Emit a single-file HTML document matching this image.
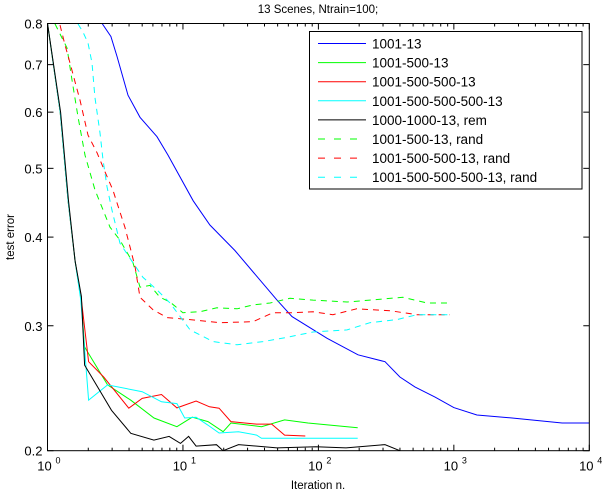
<!DOCTYPE html>
<html><head><meta charset="utf-8"><style>
html,body{margin:0;padding:0;background:#fff;}
svg{display:block;font-family:"Liberation Sans",Arial,sans-serif;}
</style></head><body>
<svg id="chart" width="602" height="494" viewBox="0 0 602 494" xmlns="http://www.w3.org/2000/svg">
<rect x="0" y="0" width="602" height="494" fill="#fff"/>
<defs><clipPath id="pc"><rect x="47.5" y="23.5" width="541.8" height="427.2"/></clipPath></defs>
<text x="318" y="13" font-size="11.5" text-anchor="middle">13 Scenes, Ntrain=100;</text>
<text x="318" y="489" font-size="11.5" text-anchor="middle">Iteration n.</text>
<text x="0" y="0" font-size="11.5" text-anchor="middle" transform="translate(14,237) rotate(-90)">test error</text>
<g id="series" clip-path="url(#pc)"></g>
<g id="axes"></g>
<g id="legend"></g>
</svg>
<script>
const xTicks=[1,10,100,1000,10000];
const xTickExp=["0","1","2","3","4"];
const yTicks=[0.2,0.3,0.4,0.5,0.6,0.7,0.8];
const yTickLabels=["0.2","0.3","0.4","0.5","0.6","0.7","0.8"];
const legendLabels=["1001-13","1001-500-13","1001-500-500-13","1001-500-500-500-13","1000-1000-13, rem","1001-500-13, rand","1001-500-500-13, rand","1001-500-500-500-13, rand"];
const legendColors=["#0000ff","#00ff00","#ff0000","#00ffff","#000000","#00ff00","#ff0000","#00ffff"];
const legendDashed=[false,false,false,false,false,true,true,true];

const blueIt=[2.53,2.94,3.26,3.93,4.82,6.43,7.76,11.9,15.8,24.2,49.5,63.8,116,196,310,400,516,726,1000,1480,2690,6300,10000];
const blueErr=[0.8,0.767,0.719,0.634,0.59,0.554,0.522,0.45,0.416,0.383,0.326,0.309,0.288,0.273,0.267,0.254,0.246,0.238,0.230,0.2246,0.2224,0.2188,0.2188];
const greenIt=[1,1.24,1.42,1.6,1.77,1.88,2.78,4.12,6.11,9.03,11.7,15.3,19.8,22.6,38,56.3,83.6,195];
const greenErr=[0.8,0.6,0.45,0.37,0.326,0.28,0.2476,0.2356,0.2224,0.2162,0.223,0.2198,0.2127,0.2188,0.2162,0.221,0.2188,0.2155];
const redIt=[1,1.24,1.42,1.6,1.78,2.01,2.6,3.98,5.0,6.95,9.03,12.5,15.7,18.5,22.6,35,45.2,56.3,80];
const redErr=[0.8,0.6,0.45,0.37,0.326,0.267,0.254,0.2296,0.237,0.240,0.2298,0.235,0.2306,0.2296,0.2198,0.218,0.218,0.2104,0.2098];
const cyanIt=[1,1.24,1.42,1.6,1.76,2.01,2.78,5.0,6.95,9.03,10.3,12.5,15.2,18.5,25.7,35,38,195];
const cyanErr=[0.8,0.6,0.45,0.37,0.326,0.2356,0.2476,0.2422,0.2344,0.233,0.2224,0.223,0.2175,0.2118,0.2127,0.2104,0.2082,0.2082];
const blackIt=[1,1.25,1.43,1.6,1.78,1.88,2.97,4.12,6.1,7.9,9.6,11,12.5,17.7,19.8,25.7,49.5,96,160,310,400];
const blackErr=[0.8,0.6,0.45,0.37,0.33,0.264,0.228,0.2116,0.207,0.2095,0.2048,0.2095,0.203,0.2039,0.2,0.204,0.2018,0.2026,0.2018,0.204,0.2];
const gdIt=[1.136,1.393,1.517,1.68,1.892,2.243,2.57,2.893,3.43,4.28,4.82,5.71,6.77,8.02,10,13.4,17.8,25.1,32.9,44,61.7,91.2,163,240,421,634,937];
const gdErr=[0.799,0.739,0.666,0.591,0.522,0.466,0.437,0.413,0.396,0.368,0.340,0.342,0.329,0.324,0.313,0.314,0.318,0.317,0.321,0.323,0.328,0.326,0.324,0.326,0.329,0.323,0.323];
const rdIt=[1.237,1.346,1.466,1.596,1.738,1.99,2.32,2.66,3.04,3.26,3.73,4.07,4.43,4.82,6.01,7.62,11.3,18.8,32.9,46.2,64.9,91.2,128,192,337,534,937];
const rdErr=[0.796,0.746,0.704,0.662,0.624,0.557,0.526,0.494,0.466,0.447,0.413,0.387,0.363,0.329,0.316,0.308,0.306,0.303,0.304,0.313,0.313,0.314,0.311,0.317,0.315,0.311,0.311];
const cdIt=[1.68,1.83,1.99,2.13,2.24,2.44,2.57,2.75,2.99,3.43,4.28,5.07,6.43,8.02,11.3,16.7,25.1,39,58.7,91.2,163,240,380,534,937];
const cdErr=[0.799,0.778,0.751,0.704,0.630,0.561,0.514,0.471,0.437,0.392,0.368,0.351,0.337,0.323,0.296,0.285,0.282,0.285,0.289,0.294,0.296,0.303,0.306,0.311,0.311];

const L=47.5,R=589.3,T=23.5,B=450.7;
function xS(v){return L+Math.log10(v)/4*(R-L);}
function yS(v){return B-Math.log10(v/0.2)/Math.log10(4)*(B-T);}
const NS="http://www.w3.org/2000/svg";
const svg=document.getElementById('chart');
const sg=document.getElementById('series');
const ag=document.getElementById('axes');
const lg=document.getElementById('legend');
function mk(tag,attrs,parent){const e=document.createElementNS(NS,tag);for(const k in attrs)e.setAttribute(k,attrs[k]);parent.appendChild(e);return e;}

const seriesList=[
 [blueIt,blueErr,0,'series-1001-13'],
 [greenIt,greenErr,1,'series-1001-500-13'],
 [redIt,redErr,2,'series-1001-500-500-13'],
 [cyanIt,cyanErr,3,'series-1001-500-500-500-13'],
 [blackIt,blackErr,4,'series-1000-1000-13-rem'],
 [gdIt,gdErr,5,'series-1001-500-13-rand'],
 [rdIt,rdErr,6,'series-1001-500-500-13-rand'],
 [cdIt,cdErr,7,'series-1001-500-500-500-13-rand']
];
seriesList.forEach(s=>{
 const d=s[0].map((v,i)=>(i?'L':'M')+xS(v).toFixed(1)+','+yS(s[1][i]).toFixed(1)).join('');
 const p=mk('path',{d:d,fill:'none',stroke:legendColors[s[2]],'stroke-width':1},sg);
 if(legendDashed[s[2]])p.setAttribute('stroke-dasharray','6,5');
 
 
});

// axes box
const box=mk('rect',{x:L,y:T,width:R-L,height:B-T,fill:'none',stroke:'#000','stroke-width':1},ag);


// x ticks
for(let e=0;e<4;e++){for(let m=2;m<=9;m++){const x=xS(m*Math.pow(10,e));
 mk('line',{x1:x,y1:B,x2:x,y2:B-3,stroke:'#000'},ag);mk('line',{x1:x,y1:T,x2:x,y2:T+3,stroke:'#000'},ag);}}
xTicks.forEach((v,i)=>{const x=xS(v);
 mk('line',{x1:x,y1:B,x2:x,y2:B-6,stroke:'#000'},ag);mk('line',{x1:x,y1:T,x2:x,y2:T+6,stroke:'#000'},ag);
 const t=mk('text',{x:x-3,y:B+20,'font-size':13,'text-anchor':'middle'},ag);
 t.textContent='10';
 
 
 const s=mk('text',{x:x+8,y:B+13,'font-size':9},ag);
 s.textContent=xTickExp[i];
 
 
});
yTicks.forEach((v,i)=>{const y=yS(v);
 mk('line',{x1:L,y1:y,x2:L+6,y2:y,stroke:'#000'},ag);mk('line',{x1:R,y1:y,x2:R-6,y2:y,stroke:'#000'},ag);
 const t=mk('text',{x:L-5,y:y+5,'font-size':13,'text-anchor':'end'},ag);
 t.textContent=yTickLabels[i];
 
 
});

// legend
const lb=mk('rect',{x:309.5,y:31.5,width:272.5,height:157.5,fill:'#fff',stroke:'#000'},lg);


legendLabels.forEach((lab,i)=>{const y=43.5+i*19.1;
 const ln=mk('line',{x1:318,y1:y,x2:366,y2:y,stroke:legendColors[i],'stroke-width':1},lg);
 if(legendDashed[i])ln.setAttribute('stroke-dasharray','7,9');
 
 
 const t=mk('text',{x:372,y:y+5,'font-size':13.5},lg);
 t.textContent=lab;
 
 
});
</script>
</body></html>
